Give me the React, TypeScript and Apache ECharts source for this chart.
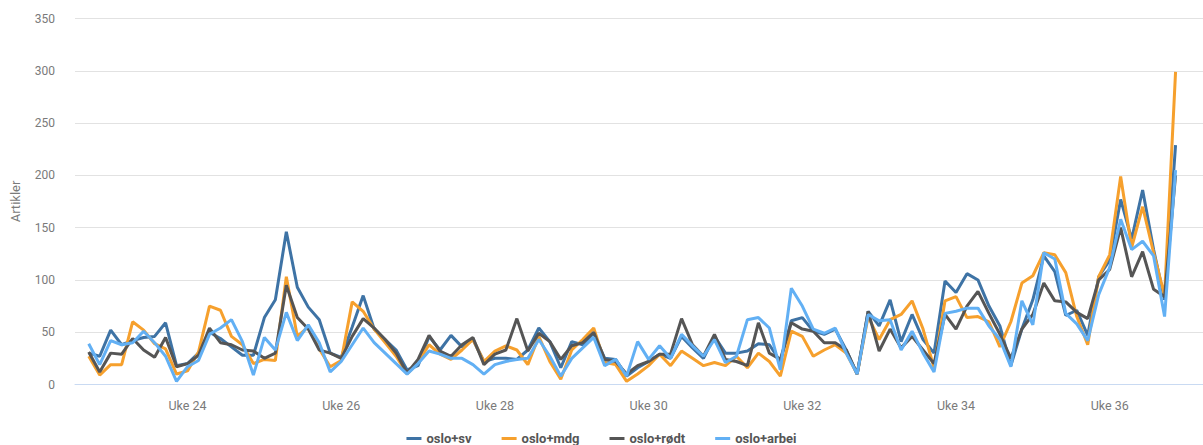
import React, { useEffect, useRef } from "react";
import * as echarts from "echarts";

const seriesNames = ["oslo+sv", "oslo+mdg", "oslo+rødt", "oslo+arbei"];
const seriesColors = ["#3e73a5", "#f6a02d", "#555555", "#62b0f4"];
const weekLabels = ["Uke 24", "Uke 26", "Uke 28", "Uke 30", "Uke 32", "Uke 34", "Uke 36"];
const daysPerLabel = 14;
const firstDayOffset = -9; // first data day, counted in days from the "Uke 24" tick

const svValues = [
  30, 27, 52, 38, 42, 45, 46, 59, 18, 20,
  30, 50, 44, 36, 28, 28, 64, 81, 146, 93,
  74, 62, 30, 26, 55, 85, 53, 43, 33, 14,
  18, 46, 33, 47, 36, 43, 22, 25, 25, 24,
  33, 54, 41, 16, 41, 38, 49, 25, 24, 8,
  16, 22, 29, 25, 46, 35, 25, 46, 30, 30,
  32, 39, 38, 22, 61, 64, 51, 48, 53, 33,
  10, 70, 56, 81, 41, 67, 43, 30, 99, 88,
  106, 100, 75, 56, 18, 53, 81, 123, 108, 66,
  71, 47, 103, 119, 177, 139, 186, 129, 81, 229,
];
const mdgValues = [
  27, 9, 19, 19, 60, 52, 39, 34, 10, 13,
  31, 75, 71, 46, 38, 20, 24, 23, 103, 46,
  55, 34, 17, 23, 79, 70, 53, 40, 27, 10,
  21, 38, 29, 24, 33, 43, 22, 32, 37, 33,
  19, 46, 22, 5, 33, 43, 54, 21, 19, 3,
  10, 18, 29, 18, 32, 25, 18, 21, 18, 27,
  16, 30, 22, 8, 51, 46, 27, 33, 38, 30,
  10, 65, 43, 62, 67, 80, 53, 16, 80, 84,
  64, 65, 60, 36, 60, 97, 104, 126, 124, 107,
  65, 38, 103, 124, 199, 131, 170, 126, 85, 299,
];
const rodtValues = [
  31, 12, 30, 29, 44, 33, 26, 45, 17, 20,
  28, 54, 40, 38, 33, 32, 25, 30, 95, 64,
  53, 33, 30, 25, 46, 63, 54, 43, 30, 11,
  24, 47, 32, 27, 38, 45, 19, 29, 33, 63,
  32, 49, 41, 24, 37, 40, 50, 24, 22, 10,
  18, 22, 29, 29, 63, 38, 27, 48, 24, 22,
  18, 59, 30, 24, 59, 53, 51, 40, 40, 33,
  10, 70, 32, 53, 35, 46, 33, 20, 67, 53,
  75, 89, 68, 48, 25, 53, 67, 97, 80, 79,
  69, 63, 100, 110, 150, 103, 127, 91, 84, 200,
];
const arbeiValues = [
  39, 19, 42, 38, 40, 51, 40, 27, 3, 17,
  23, 48, 54, 62, 41, 9, 45, 33, 69, 42,
  57, 40, 12, 22, 38, 54, 40, 30, 20, 10,
  20, 32, 29, 25, 25, 19, 10, 19, 22, 24,
  25, 43, 27, 8, 25, 35, 45, 18, 24, 8,
  41, 24, 37, 25, 48, 37, 27, 43, 21, 27,
  62, 64, 54, 14, 92, 75, 53, 49, 54, 30,
  10, 67, 61, 62, 33, 51, 30, 12, 68, 70,
  73, 73, 56, 43, 17, 80, 57, 126, 120, 68,
  58, 42, 86, 112, 158, 129, 137, 123, 65, 205,
];
const allValues = [svValues, mdgValues, rodtValues, arbeiValues];

export default function App() {
  const ref = useRef<HTMLDivElement>(null);

  useEffect(() => {
    document.body.style.margin = "0";
    if (!ref.current) return;
    const chart = echarts.init(ref.current, null, { renderer: "svg" });
    const font = "Roboto, 'Noto Sans', sans-serif";
    chart.setOption({
      animation: false,
      backgroundColor: "#ffffff",
      textStyle: { fontFamily: font },
      grid: { left: 75, right: 0, top: 18.5, bottom: 60.5, containLabel: false, outerBoundsMode: "none" },
      legend: {
        data: seriesNames,
        left: "center",
        top: 427,
        itemGap: 30,
        itemWidth: 15,
        itemHeight: 3,
        icon: "rect",
        textStyle: { fontFamily: font, fontSize: 13, fontWeight: "bold", color: "#555555" },
      },
      xAxis: {
        type: "value",
        min: -10.25,
        max: 92.5,
        interval: 0.25,
        axisLine: { show: true, lineStyle: { color: "#c9daf2", width: 1 } },
        axisTick: { show: false },
        splitLine: { show: false },
        axisLabel: {
          show: true,
          margin: 14,
          fontSize: 12.5,
          color: "#7a7a7a",
          fontFamily: font,
          showMinLabel: false,
          showMaxLabel: false,
          formatter: (v: number) => {
            const k = v / daysPerLabel;
            if (Number.isInteger(k) && k >= 0 && k < weekLabels.length) return weekLabels[k];
            return "";
          },
        },
      },
      yAxis: {
        type: "value",
        min: 0,
        max: 350,
        interval: 50,
        name: "Artikler",
        nameLocation: "middle",
        nameGap: 53,
        nameTextStyle: { fontSize: 13, color: "#7a7a7a", fontFamily: font },
        axisLine: { show: false },
        axisTick: { show: false },
        axisLabel: { margin: 20, fontSize: 12, color: "#7a7a7a", fontFamily: font },
        splitLine: { show: true, lineStyle: { color: "#e2e2e2", width: 1 } },
      },
      series: seriesNames.map((name, s) => ({
        name,
        type: "line",
        data: allValues[s].map((v, i) => [i + firstDayOffset, v]),
        showSymbol: false,
        symbol: "none",
        lineStyle: { width: 3, color: seriesColors[s] },
        itemStyle: { color: seriesColors[s] },
        emphasis: { disabled: true },
      })),
    });
    return () => chart.dispose();
  }, []);

  return <div ref={ref} style={{ width: 1203, height: 445 }} />;
}
